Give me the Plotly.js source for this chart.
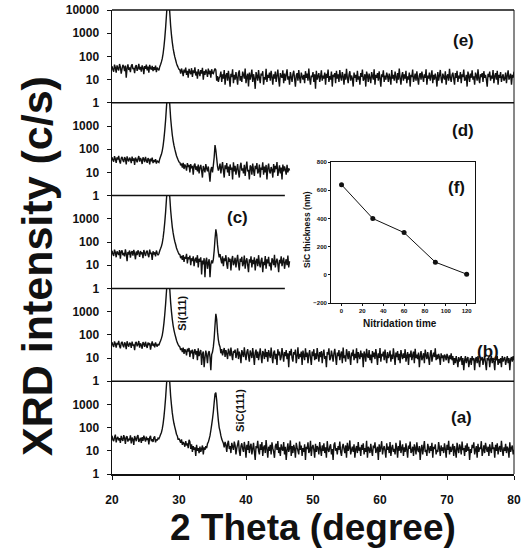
<!DOCTYPE html>
<html><head><meta charset="utf-8">
<script src="https://cdn.plot.ly/plotly-3.0.1.min.js"></script>
<style>html,body{margin:0;padding:0;background:#fff}</style>
</head><body><div id="chart" style="width:522px;height:550px"></div>
<script>
// 2-theta sampling grid (degrees)
const THETA_START = 20, THETA_STEP = 0.125;

// XRD intensity (c/s), panel (a) .. (e)
const intensityA = [
45,30,26,38,50,23,34,40,28,35,22,44,31,27,47,36,20,39,42,25,
33,29,46,21,37,31,18,43,34,26,40,48,24,30,36,22,39,27,45,33,
25,41,29,35,19,38,44,26,32,24,37,42,23,31,28,35,33,
40,50,62,88,145,290,680,1900,6500,21000,40000,26000,8500,2300,950,430,240,150,105,75,52,44,30,34,
28,22,31,18,24,20,15,26,17,21,13,30,25,12,19,9,16,11,14,6,18,10,13,8,
15,9,12,17,7,14,11,16,13,20,24,32,45,75,130,240,
480,1200,2800,3200,1500,500,200,100,
70,45,32,26,21,14,24,18,9,20,27,12,16,8,22,15,11,25,17,7,
13,19,28,10,6,16,21,12,9,24,14,5,18,11,26,8,15,20,7,12,
22,9,4,16,13,27,10,7,19,11,24,6,14,17,8,29,12,5,15,10,
18,7,23,13,9,5,16,20,11,26,8,14,6,19,12,10,24,7,15,4,
11,21,9,13,28,6,16,8,18,12,5,22,14,10,7,25,11,17,6,13,
9,19,4,15,12,23,8,10,27,6,14,18,11,5,20,9,16,13,7,24,
12,6,17,10,21,8,14,5,26,11,9,15,19,7,12,4,18,23,10,13,
7,16,11,25,9,6,14,20,12,8,17,5,22,10,13,28,7,11,15,9,
19,5,12,16,8,24,10,14,6,18,11,21,7,13,9,27,5,15,12,8,
20,10,6,17,13,23,8,11,15,4,19,9,14,26,7,12,16,10,5,21,
11,15,8,24,6,13,18,9,12,7,22,14,5,16,10,28,8,13,19,6,
14,9,21,11,5,17,12,25,8,10,15,6,19,13,7,23,11,9,16,4,
12,18,7,14,26,9,11,6,20,13,8,16,10,22,5,15,12,19,7,11,
9,24,13,6,17,10,14,8,21,12,5,18,11,27,7,15,9,13,20,6,
16,10,5,22,12,8,19,14,7,25,11,13,6,17,9,21,10,15,4,12,
8,18,13,23,7,11,16,5,20,9,14,12,26,6,10,17,8,22,13,9,
15,6,19,11,8,24,12,14,5,18,10,21,7,13,16,9,27,11,6,14,
10,20,8,15,12,5,23,9,13,17,7,11];

const intensityB = [
48,36,30,52,41,28,45,38,55,33,26,44,50,35,29,47,40,24,53,37,
31,46,42,27,51,34,39,22,45,49,32,38,54,28,43,36,25,48,41,30,
50,35,27,46,39,44,23,37,52,33,42,29,47,36,31,40,35,
45,55,70,95,160,320,750,2100,7000,22000,42000,27000,9000,2500,1000,460,250,160,110,80,58,45,38,33,
30,22,26,18,28,15,24,20,13,25,19,27,11,21,16,23,9,18,24,14,20,8,26,12,
17,22,5,15,19,4,10,21,13,6,16,20,11,3,14,18,
30,70,260,800,460,130,60,38,
30,16,24,13,19,27,11,22,15,9,25,18,12,28,14,8,20,17,23,10,
15,26,9,19,13,6,22,16,11,29,14,8,18,24,12,7,21,15,10,27,
13,5,17,23,10,19,8,14,26,12,6,20,16,9,25,11,18,7,22,14,
10,28,12,6,17,21,9,15,5,24,13,19,8,11,27,14,7,18,12,22,
9,16,4,20,13,25,10,7,18,14,23,6,12,29,9,15,11,19,5,21,
13,8,26,11,17,6,14,22,10,5,19,12,24,8,16,9,27,13,7,18,
11,20,6,15,23,9,12,4,18,14,26,8,10,21,13,7,16,25,11,5,
17,12,22,8,14,19,6,28,10,13,7,24,15,9,20,11,5,17,12,23,
8,15,10,26,6,18,13,9,21,11,16,4,19,14,7,25,12,10,22,8,
14,6,20,11,17,9,24,13,5,16,10,27,7,15,12,19,8,23,11,6,
18,10,13,21,7,14,9,26,12,5,17,11,20,8,15,6,22,13,9,16,
10,24,7,12,18,5,15,11,21,8,13,19,6,25,10,14,9,17,4,12,
20,8,11,16,6,23,13,9,18,10,5,15,22,7,12,17,11,26,8,14,
9,15,11,5,16,10,13,7,14,12,8,15,11,6,13,9,16,8,12,5,
10,6,12,8,4,11,7,9,12,5,10,3,8,12,6,9,11,4,7,10,
5,12,8,10,3,9,11,6,12,7,4,10,8,11,5,9,12,6,3,10,
8,11,4,9,12,6,10,7,3,11,8,12,5,9,6,10,4,12,7,9,
11,5,8,12,6,10,3,9,11,7,12,8];

const intensityC = [
42,30,25,47,36,22,40,33,28,45,19,38,44,27,34,24,48,31,15,37,
29,43,21,35,40,26,46,32,18,39,27,44,34,23,41,30,36,20,45,33,
25,38,42,28,22,47,31,35,17,40,29,36,24,43,33,27,31,
42,52,66,90,150,300,700,1950,6800,21000,40000,26000,8500,2400,980,440,245,155,105,78,55,44,36,30,
29,20,25,17,27,14,23,19,31,12,22,18,26,10,20,15,24,9,17,21,13,27,8,19,
14,22,4,16,11,20,3,15,21,7,13,18,3,11,16,12,
18,42,135,350,210,75,36,22,
30,18,12,24,9,20,15,27,11,7,22,14,19,6,17,25,10,13,21,8,
16,28,11,6,19,14,23,9,12,26,7,15,20,10,5,18,13,24,8,17,
11,22,6,15,19,9,27,12,8,16,21,5,14,10,25,7,18,12,23,9,
13,6,20,16,10,28,8,14,19,11,5,17,12,24,9,15,21,7,13,18,
10,26,8,15];

const intensityD = [
45,34,29,50,38,26,44,36,52,31,24,41,47,33,28,46,39,22,49,35,
30,43,37,25,48,32,40,21,44,36,27,39,51,29,42,34,23,45,38,28,
47,33,26,41,36,22,39,30,43,25,34,28,37,24,32,29,27,
38,48,60,85,140,280,650,1800,6200,20000,40000,25000,8000,2200,900,410,230,145,100,72,52,42,34,28,
27,20,24,16,26,14,22,18,12,25,17,21,10,23,15,19,8,20,24,13,18,11,22,9,
16,21,12,6,19,14,10,23,15,11,18,9,4,13,17,10,
20,45,150,90,40,18,12,16,
24,9,17,28,12,6,20,14,25,10,18,7,22,13,16,5,27,11,19,8,
14,23,10,6,18,26,12,15,9,21,7,16,29,11,13,5,20,17,8,24,
12,7,19,14,25,9,11,22,6,16,13,27,8,18,10,21,5,15,24,11,
9,17,13,6,23,10,19,14,28,7,12,20,9,16,5,22,11,18,13,8,
21,10,15,12];

const intensityE = [
38,27,22,44,33,20,41,30,25,47,35,18,29,43,36,23,40,12,31,45,
26,34,21,39,46,28,32,19,37,42,24,30,48,27,35,22,41,33,17,38,
29,44,25,36,20,43,31,27,39,23,34,26,40,21,33,28,25,
36,45,58,80,130,260,600,1700,5800,19000,38000,24000,7500,2100,850,400,220,140,95,70,50,40,33,28,
26,18,30,22,14,27,20,33,16,24,12,29,21,17,31,13,25,19,34,15,22,11,28,20,
14,26,18,32,10,23,16,27,21,13,30,17,24,12,28,19,
18,24,30,26,9,14,8,12,
14,22,8,17,11,26,6,15,19,9,24,12,5,18,13,28,7,16,10,21,
12,6,19,25,9,14,8,22,16,11,30,7,13,18,5,20,10,15,27,8,
17,11,4,21,14,9,26,12,7,18,15,23,6,13,10,29,8,16,12,20,
9,24,13,6,17,11,22,8,15,27,10,5,19,14,12,25,7,18,9,16,
28,10,14,6,21,13,8,17,24,11,5,15,19,9,26,12,7,20,14,10,
16,7,23,12,18,9,30,11,6,15,13,21,8,17,4,24,10,14,19,8,
13,25,9,15,11,20,6,18,12,27,8,14,10,22,5,16,13,19,7,24,
11,17,8,26,13,9,21,14,6,18,10,29,12,7,16,23,9,15,11,5,
20,12,16,8,24,10,14,6,19,13,27,9,11,17,5,22,15,8,18,12,
7,21,14,10,28,6,16,12,19,9,23,11,5,17,13,25,8,15,10,20,
14,8,18,12,6,26,11,16,9,22,13,7,19,10,30,12,6,15,21,9,
17,11,24,7,14,10,20,5,16,13,27,8,12,18,9,23,11,6,15,19,
10,22,13,8,17,12,28,6,15,11,20,9,14,25,7,16,10,18,12,5,
21,9,15,26,11,7,18,13,10,23,6,14,17,9,29,12,8,16,20,11,
6,19,12,24,8,15,11,21,7,17,13,27,9,10,16,5,22,14,8,18,
12,25,10,14,6,20,15,9,28,11,7,17,13,19,8,23,12,16,10,5,
18,13,22,9,15,11,26,7,14,19,10,24,6,16,12,21,8,13,17,9,
11,20,7,15,25,10,13,18,6,16,12,22];

// inset (f)
const nitridationTime = [0, 30, 60, 90, 120];
const sicThickness = [640, 400, 300, 90, 5];

const xTicks = [20, 30, 40, 50, 60, 70, 80];
const yTicksTop = [1, 10, 100, 1000, 10000];
const yTicks = [1, 10, 100, 1000];
const insetXTicks = [0, 20, 40, 60, 80, 100, 120];
const insetYTicks = [-200, 0, 200, 400, 600, 800];

const grid = arr => arr.map((_, i) => THETA_START + i * THETA_STEP);
const FONT = 'Liberation Sans, Arial, sans-serif';
const INK = '#111';
const lineStyle = {color: INK, width: 1.4, simplify: false};

const traces = [
  {x: grid(intensityA), y: intensityA, xaxis: 'x', yaxis: 'y'},
  {x: grid(intensityB), y: intensityB, xaxis: 'x', yaxis: 'y2'},
  {x: grid(intensityC), y: intensityC, xaxis: 'x', yaxis: 'y3'},
  {x: grid(intensityD), y: intensityD, xaxis: 'x', yaxis: 'y4'},
  {x: grid(intensityE), y: intensityE, xaxis: 'x', yaxis: 'y5'}
].map(t => Object.assign(t, {type: 'scatter', mode: 'lines', line: lineStyle, hoverinfo: 'skip'}));

traces.push({x: nitridationTime, y: sicThickness, xaxis: 'x2', yaxis: 'y6', type: 'scatter',
  mode: 'lines+markers', line: {color: INK, width: 1}, marker: {color: INK, size: 5}});

const tickFont = {family: FONT, size: 12, color: INK, weight: 'bold'};
function yAx(domain, ticks) {
  return {type: 'log', domain: domain, range: [0, 4], anchor: 'x', tickvals: ticks,
    ticktext: ticks.map(String), showgrid: false, zeroline: false, showline: true,
    linecolor: INK, linewidth: 1.5, ticks: 'outside', ticklen: 4, tickcolor: INK,
    tickfont: tickFont, ticklabelstandoff: 5};
}

const ann = (text, x, y, opt) => Object.assign({text: text, x: x, y: y, xref: 'x', yref: 'paper',
  showarrow: false, font: {family: FONT, size: 17, color: INK, weight: 'bold'}}, opt || {});

const layout = {
  width: 522, height: 550,
  margin: {l: 112, r: 8, t: 10, b: 76},
  paper_bgcolor: '#fff', plot_bgcolor: 'rgba(0,0,0,0)',
  showlegend: false,
  xaxis: {domain: [0, 1], range: [20, 80], anchor: 'y', tickvals: xTicks, showgrid: false,
    zeroline: false, showline: true, linecolor: INK, linewidth: 1.5, ticks: 'outside',
    ticklen: 4, tickcolor: INK, tickfont: tickFont, ticklabelstandoff: 10},
  yaxis: yAx([0, 0.2], yTicks),
  yaxis2: yAx([0.2, 0.4], yTicks),
  yaxis3: yAx([0.4, 0.6], yTicks),
  yaxis4: yAx([0.6, 0.8], yTicks),
  yaxis5: yAx([0.8, 1], yTicksTop),
  xaxis2: {domain: [0.545, 0.903], range: [-10, 128], anchor: 'y6', tickvals: insetXTicks,
    showgrid: false, zeroline: false, showline: true, mirror: true, linecolor: INK, linewidth: 1,
    ticks: 'outside', ticklen: 2, tickcolor: INK,
    tickfont: {family: FONT, size: 6, color: INK, weight: 'bold'}},
  yaxis6: {domain: [0.3685, 0.672], range: [-200, 800], anchor: 'x2', tickvals: insetYTicks,
    showgrid: false, zeroline: false, showline: true, mirror: true, linecolor: INK, linewidth: 1,
    ticks: 'outside', ticklen: 2, tickcolor: INK,
    tickfont: {family: FONT, size: 6, color: INK, weight: 'bold'}},
  shapes: [
    {type: 'line', xref: 'paper', yref: 'paper', x0: 0, x1: 1, y0: 1, y1: 1, line: {color: INK, width: 1.5}},
    {type: 'line', xref: 'paper', yref: 'paper', x0: 0, x1: 1, y0: 0.8, y1: 0.8, line: {color: INK, width: 1.5}},
    {type: 'line', xref: 'paper', yref: 'paper', x0: 0, x1: 0.43, y0: 0.6, y1: 0.6, line: {color: INK, width: 1.5}},
    {type: 'line', xref: 'paper', yref: 'paper', x0: 0, x1: 0.43, y0: 0.4, y1: 0.4, line: {color: INK, width: 1.5}},
    {type: 'line', xref: 'paper', yref: 'paper', x0: 0, x1: 1, y0: 0.2, y1: 0.2, line: {color: INK, width: 1.5}},
    {type: 'line', xref: 'paper', yref: 'paper', x0: 1, x1: 1, y0: 0, y1: 1, line: {color: INK, width: 1}}
  ],
  annotations: [
    ann('(e)', 72.4, 0.935),
    ann('(d)', 72.4, 0.741),
    ann('(c)', 38.7, 0.552),
    ann('(b)', 76.1, 0.263),
    ann('(a)', 72.2, 0.121),
    ann('Si(111)', 30.4, 0.347, {textangle: -90, font: {family: FONT, size: 11, color: INK, weight: 'bold'}}),
    ann('SiC(111)', 39.1, 0.138, {textangle: -90, font: {family: FONT, size: 11, color: INK, weight: 'bold'}}),
    {text: '(f)', x: 110, y: 623, xref: 'x2', yref: 'y6', showarrow: false,
      font: {family: FONT, size: 17, color: INK, weight: 'bold'}},
    {text: 'SiC thickness (nm)', x: 307, y: 230, showarrow: false,
      textangle: -90, font: {family: FONT, size: 8.5, color: INK, weight: 'bold'}},
    {text: 'Nitridation time', x: 400, y: 323, showarrow: false,
      font: {family: FONT, size: 10, color: INK, weight: 'bold'}},
    {text: 'XRD intensity (c/s)', x: 37, y: 266, showarrow: false, textangle: -90,
      font: {family: FONT, size: 43, color: INK, weight: 'bold'}},
    {text: '2 Theta (degree)', x: 313, y: 527, showarrow: false,
      font: {family: FONT, size: 37, color: INK, weight: 'bold'}}
  ]
};
// pixel-positioned annotations -> paper coordinates of the plot area
const PL = 112, PW = 402, PT = 10, PH = 464;
layout.annotations.forEach(a => {
  if (a.xref === undefined) { a.xref = 'paper'; a.yref = 'paper'; a.x = (a.x - PL) / PW; a.y = 1 - (a.y - PT) / PH; }
  a.xanchor = 'center'; a.yanchor = 'middle';
});

Plotly.newPlot('chart', traces, layout, {displayModeBar: false, staticPlot: true});
</script></body></html>
